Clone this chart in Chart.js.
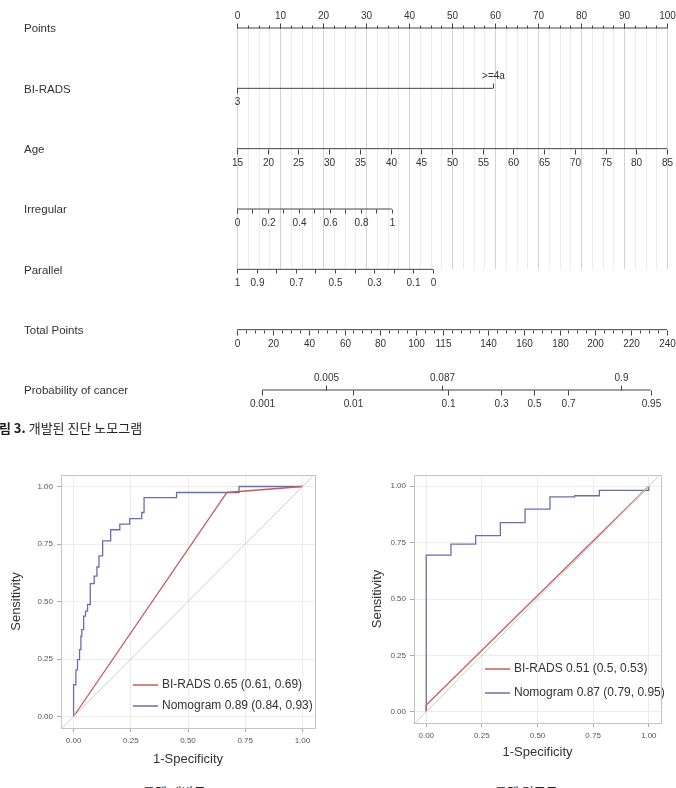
<!DOCTYPE html>
<html>
<head>
<meta charset="utf-8">
<script src="https://cdn.jsdelivr.net/npm/chart.js@4.4.0/dist/chart.umd.min.js"></script>
<style>
  body { margin: 0; background: #fff; width: 676px; height: 788px; overflow: hidden; position: relative; }
  canvas { position: absolute; }
  #nomo { left: 0; top: 0; }
  #rocDev { left: 0; top: 465px; }
  #rocVal { left: 340px; top: 465px; }
  .cap { position: absolute; font-family: "Noto Sans CJK KR", sans-serif; font-size: 13px; color: #222; white-space: nowrap; line-height: 18px; }
</style>
</head>
<body>
<canvas id="nomo" width="676" height="420"></canvas>
<div class="cap" style="left:-13px;top:419px"><b>그림 3.</b> 개발된 진단 노모그램</div>
<canvas id="rocDev" width="330" height="302"></canvas>
<canvas id="rocVal" width="336" height="295"></canvas>
<div class="cap" style="left:143px;top:783px">모델 개발군</div>
<div class="cap" style="left:495px;top:783px">모델 검증군</div>
<script>
// ---- nomogram rows ----
const rowNames = ['Points', 'BI-RADS', 'Age', 'Irregular', 'Parallel', 'Total Points', 'Probability of cancer'];
const pointsTicks = [0, 10, 20, 30, 40, 50, 60, 70, 80, 90, 100];
const biradsLevels = ['3', '>=4a'];
const biradsPoints = [0, 59.5];
const ageTicks = [15, 20, 25, 30, 35, 40, 45, 50, 55, 60, 65, 70, 75, 80, 85];
const irregularTicks = [0, 0.1, 0.2, 0.3, 0.4, 0.5, 0.6, 0.7, 0.8, 0.9, 1];
const irregularLabels = [0, 0.2, 0.4, 0.6, 0.8, 1];
const parallelTicks = [1, 0.9, 0.8, 0.7, 0.6, 0.5, 0.4, 0.3, 0.2, 0.1, 0];
const parallelLabels = [1, 0.9, 0.7, 0.5, 0.3, 0.1, 0];
const totalTicks = [0, 20, 40, 60, 80, 100, 115, 140, 160, 180, 200, 220, 240];
const probBelow = [0.001, 0.01, 0.1, 0.3, 0.5, 0.7, 0.95];
const probAbove = [0.005, 0.087, 0.9];

// scale factors
const ageRange = [15, 85];     // spans 0..100 points
const irregularMax = 36;       // points at irregular = 1
const parallelMax = 45.6;      // points at parallel = 0
const totalMax = 240;          // total points across the points axis
const probCenter = 166;        // total points where p = 0.5
const probSlope = 0.0454;      // logit per total point

// ---- ROC curves ----
const rocTicks = [0, 0.25, 0.5, 0.75, 1];
const devNomoFpr = [0, 0, 0.010, 0.017, 0.026, 0.032, 0.036, 0.044, 0.052, 0.061, 0.073, 0.090, 0.102, 0.111, 0.127, 0.162, 0.202, 0.245, 0.298, 0.308, 0.45, 0.723, 1];
const devNomoTpr = [0, 0.138, 0.203, 0.247, 0.291, 0.349, 0.378, 0.436, 0.458, 0.487, 0.578, 0.610, 0.650, 0.698, 0.764, 0.812, 0.836, 0.860, 0.887, 0.952, 0.974, 1, 1];
const devBiradsFpr = [0, 0.67, 1];
const devBiradsTpr = [0, 0.974, 1];
const valNomoFpr = [0, 0, 0.111, 0.222, 0.333, 0.444, 0.556, 0.667, 0.778, 1];
const valNomoTpr = [0, 0.695, 0.743, 0.781, 0.839, 0.899, 0.953, 0.958, 0.982, 1];
const valBiradsFpr = [0, 0, 1];
const valBiradsTpr = [0, 0.03, 1];

const FONT = '"Liberation Sans", Arial, sans-serif';
const red = '#c85a55';
const blue = '#6670b0';

const agePts = a => (a - ageRange[0]) / (ageRange[1] - ageRange[0]) * 100;
const irrPts = v => v * irregularMax;
const parPts = v => (1 - v) * parallelMax;
const totPts = t => t / totalMax * 100;
const probPts = p => totPts(probCenter + Math.log(p / (1 - p)) / probSlope);
const near = (v, list) => list.some(b => Math.abs(v - b) < 1e-9);

const rows = [];
// Points
let t = pointsTicks.map(v => ({ x: v, text: String(v), up: true, len: 5 }));
for (let v = 0; v <= 100; v += 2.5) if (!near(v, pointsTicks)) t.push({ x: v, text: '', up: true, len: 3 });
rows.push({ line: [0, 100], ticks: t });
// BI-RADS
rows.push({ line: [biradsPoints[0], biradsPoints[1]], ticks: [
  { x: biradsPoints[0], text: biradsLevels[0], up: false, len: 5 },
  { x: biradsPoints[1], text: biradsLevels[1], up: true, len: 5 }] });
// Age
rows.push({ line: [agePts(ageTicks[0]), agePts(ageTicks[ageTicks.length - 1])],
  ticks: ageTicks.map(a => ({ x: agePts(a), text: String(a), up: false, len: 5 })) });
// Irregular
rows.push({ line: [irrPts(0), irrPts(1)],
  ticks: irregularTicks.map(v => ({ x: irrPts(v), text: near(v, irregularLabels) ? String(v) : '', up: false, len: 4 })) });
// Parallel
rows.push({ line: [parPts(1), parPts(0)],
  ticks: parallelTicks.map(v => ({ x: parPts(v), text: near(v, parallelLabels) ? String(v) : '', up: false, len: 4 })) });
// Total points
t = totalTicks.map(v => ({ x: totPts(v), text: String(v), up: false, len: 5 }));
for (let v = 0; v <= totalMax; v += 5) if (!near(v, totalTicks)) t.push({ x: totPts(v), text: '', up: false, len: 3 });
rows.push({ line: [0, 100], ticks: t });
// Probability
rows.push({ line: [probPts(probBelow[0]), probPts(probBelow[probBelow.length - 1])],
  ticks: probBelow.map(p => ({ x: probPts(p), text: String(p), up: false, len: 5 }))
    .concat(probAbove.map(p => ({ x: probPts(p), text: String(p), up: true, len: 5 }))) });

const nomoPlugin = {
  id: 'nomoPlugin',
  beforeDatasetsDraw(chart) {
    const { ctx, scales: { x, y } } = chart;
    const y0 = y.getPixelForValue(0), y1 = y.getPixelForValue(4);
    ctx.save();
    ctx.lineWidth = 1;
    for (let v = 0; v <= 100; v += 2.5) {
      const px = Math.round(x.getPixelForValue(v)) + 0.5;
      ctx.strokeStyle = v % 10 === 0 ? '#d3d3d3' : '#ececec';
      ctx.beginPath(); ctx.moveTo(px, y0); ctx.lineTo(px, y1); ctx.stroke();
    }
    ctx.restore();
  },
  afterDatasetsDraw(chart) {
    const { ctx, scales: { x, y } } = chart;
    ctx.save();
    ctx.strokeStyle = '#444';
    ctx.lineWidth = 1;
    ctx.fillStyle = '#333';
    ctx.textAlign = 'center';
    ctx.textBaseline = 'middle';
    rows.forEach((r, i) => {
      const py = Math.round(y.getPixelForValue(i)) + 0.5;
      ctx.font = '10px ' + FONT;
      r.ticks.forEach(tk => {
        const px = Math.round(x.getPixelForValue(tk.x)) + 0.5;
        ctx.beginPath();
        ctx.moveTo(px, py);
        ctx.lineTo(px, tk.up ? py - tk.len : py + tk.len);
        ctx.stroke();
        if (tk.text) ctx.fillText(tk.text, px, tk.up ? py - 12 : py + 14);
      });
    });
    ctx.textAlign = 'left';
    ctx.font = '11.5px ' + FONT;
    rowNames.forEach((n, i) => ctx.fillText(n, 24, y.getPixelForValue(i) + 1));
    ctx.restore();
  }
};

new Chart(document.getElementById('nomo'), {
  type: 'scatter',
  data: {
    datasets: rows.map((r, i) => ({
      data: [{ x: r.line[0], y: i }, { x: r.line[1], y: i }],
      showLine: true, borderColor: '#444', borderWidth: 1, pointRadius: 0, clip: false
    }))
  },
  options: {
    responsive: false, animation: false, devicePixelRatio: 1,
    layout: { padding: { left: 237, right: 9, top: 28, bottom: 30 } },
    plugins: { legend: { display: false }, tooltip: { enabled: false } },
    scales: {
      x: { type: 'linear', min: 0, max: 100, display: false },
      y: { type: 'linear', min: 0, max: 6, reverse: true, display: false }
    }
  },
  plugins: [nomoPlugin]
});

// ---- ROC charts ----
const framePlugin = {
  id: 'frame',
  afterDraw(chart) {
    const { ctx, chartArea: a } = chart;
    ctx.save();
    ctx.strokeStyle = '#c4c4c4';
    ctx.lineWidth = 1;
    ctx.strokeRect(Math.round(a.left) + 0.5, Math.round(a.top) + 0.5, Math.round(a.width), Math.round(a.height));
    ctx.restore();
  }
};

const rocLegend = {
  id: 'rocLegend',
  afterDatasetsDraw(chart, args, o) {
    const { ctx, chartArea: a } = chart;
    ctx.save();
    ctx.font = '12px ' + FONT;
    ctx.textBaseline = 'middle';
    chart.data.datasets.filter(d => d.label).forEach((d, i) => {
      const py = a.bottom - o.rows[i];
      ctx.strokeStyle = d.borderColor;
      ctx.lineWidth = 1.5;
      ctx.beginPath(); ctx.moveTo(a.left + o.x0, py); ctx.lineTo(a.left + o.x1, py); ctx.stroke();
      ctx.fillStyle = '#333';
      ctx.fillText(d.label, a.left + o.tx, py);
    });
    ctx.restore();
  }
};

function axisOpts(title, fit, titlePad) {
  return {
    type: 'linear', min: -0.055, max: 1.055,
    afterBuildTicks: s => { s.ticks = rocTicks.map(v => ({ value: v })); },
    afterFit: fit,
    ticks: { callback: v => v.toFixed(2), font: { family: FONT, size: 8 }, color: '#555', padding: 4, autoSkip: false, maxRotation: 0 },
    grid: { color: '#ececec', tickColor: '#aaa', tickLength: 4 },
    border: { display: false },
    title: { display: true, text: title, font: { family: FONT, size: 13 }, color: '#333', padding: titlePad }
  };
}

function rocChart(id, birads, nomo, opt) {
  return new Chart(document.getElementById(id), {
    type: 'scatter',
    data: {
      datasets: [
        { label: '', data: [{ x: -0.1, y: -0.1 }, { x: 1.1, y: 1.1 }], showLine: true, borderColor: '#cdcdcd', borderWidth: 1, pointRadius: 0 },
        { label: birads.label, data: birads.fpr.map((v, i) => ({ x: v, y: birads.tpr[i] })), showLine: true, borderColor: red, borderWidth: 1.3, pointRadius: 0 },
        { label: nomo.label, data: nomo.fpr.map((v, i) => ({ x: v, y: nomo.tpr[i] })), showLine: true, stepped: 'before', borderColor: blue, borderWidth: 1.3, pointRadius: 0 }
      ]
    },
    options: {
      responsive: false, animation: false, devicePixelRatio: 1,
      layout: { padding: { left: opt.padLeft, right: 15, top: 10, bottom: 0 } },
      plugins: { legend: { display: false }, tooltip: { enabled: false }, rocLegend: opt.legend },
      scales: {
        x: axisOpts('1-Specificity', s => { s.height = opt.xH; }, 0),
        y: Object.assign(axisOpts('Sensitivity', s => { s.width = opt.yW; }, 5), { min: -0.05, max: 1.05 })
      }
    },
    plugins: [framePlugin, rocLegend]
  });
}

rocChart('rocDev',
  { label: 'BI-RADS 0.65 (0.61, 0.69)', fpr: devBiradsFpr, tpr: devBiradsTpr },
  { label: 'Nomogram 0.89 (0.84, 0.93)', fpr: devNomoFpr, tpr: devNomoTpr },
  { padLeft: 4, yW: 57, xH: 39, legend: { x0: 72, x1: 97, tx: 101, rows: [43, 22] } });

rocChart('rocVal',
  { label: 'BI-RADS 0.51 (0.5, 0.53)', fpr: valBiradsFpr, tpr: valBiradsTpr },
  { label: 'Nomogram 0.87 (0.79, 0.95)', fpr: valNomoFpr, tpr: valNomoTpr },
  { padLeft: 25, yW: 49, xH: 37, legend: { x0: 71, x1: 96, tx: 100, rows: [54, 30] } });
</script>
</body>
</html>
